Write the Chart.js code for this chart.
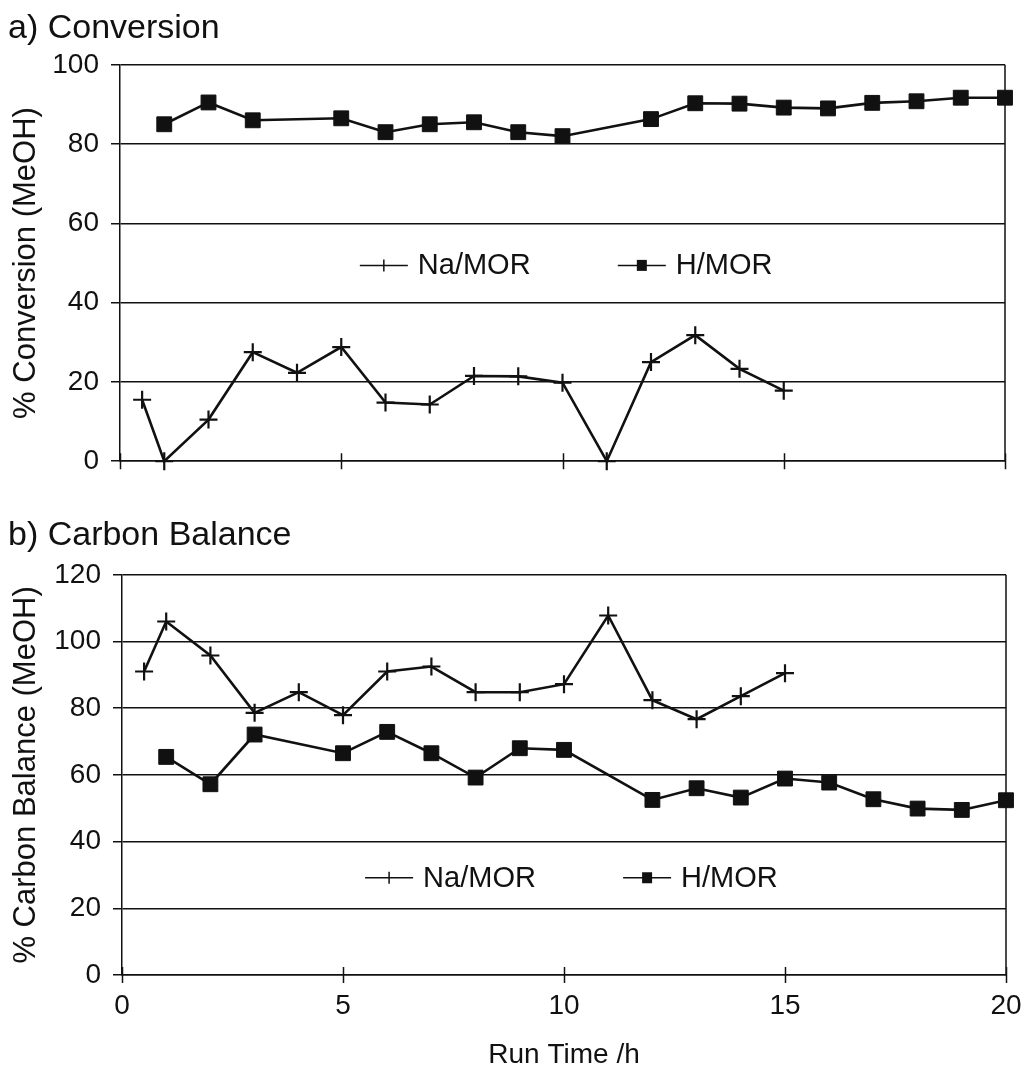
<!DOCTYPE html>
<html>
<head>
<meta charset="utf-8">
<title>Conversion and Carbon Balance</title>
<script src="https://cdn.jsdelivr.net/npm/chart.js@4.4.1/dist/chart.umd.min.js"></script>
<style>
  body { margin: 0; background: #fff; }
  .panel { position: absolute; left: 0; width: 1023px; }
  #panelA { top: 0; height: 490px; }
  #panelB { top: 500px; height: 578px; }
</style>
</head>
<body>
<div class="panel" id="panelA"><canvas id="convChart"></canvas></div>
<div class="panel" id="panelB"><canvas id="carbonChart"></canvas></div>
<script>
// Run times (h) for each catalyst
const naTimes = [0.5, 1, 2, 3, 4, 5, 6, 7, 8, 9, 10, 11, 12, 13, 14, 15];
const hTimes = [1, 2, 3, 5, 6, 7, 8, 9, 10, 12, 13, 14, 15, 16, 17, 18, 19, 20];

// % conversion of MeOH
const naConversion = [15.5, 0, 10.5, 27.5, 22.3, 28.8, 14.8, 14.3, 21.5, 21.4, 19.8, 0, 25, 31.8, 23.3, 17.8];
const hConversion = [85, 90.5, 86, 86.5, 83, 85, 85.5, 83, 82, 86.3, 90.3, 90.2, 89.2, 89, 90.4, 90.8, 91.7, 91.7];

// % carbon balance of MeOH
const naCarbon = [91, 106, 95.8, 78.6, 84.8, 77.9, 91, 92.5, 84.8, 84.8, 87.2, 107.8, 82.4, 76.7, 83.6, 90.5];
const hCarbon = [65.4, 57.2, 72.1, 66.5, 72.9, 66.5, 59.2, 68, 67.5, 52.5, 56, 53.2, 58.9, 57.7, 52.7, 49.9, 49.5, 52.4];

const seriesNames = ['Na/MOR', 'H/MOR'];
const xMax = 20;
const xStep = 5;

const INK = '#111';
const FONT = '"Liberation Sans", Arial, Helvetica, sans-serif';
Chart.defaults.font.family = FONT;
Chart.defaults.color = INK;

function toPoints(times, values) {
    return times.map((t, i) => ({ x: t, y: values[i] }));
}

// right-hand frame line and the x tick marks that cross the axis
const frameTicks = {
    id: 'frameTicks',
    beforeDatasetsDraw(chart) {
        const { ctx, chartArea: a, scales: { x } } = chart;
        ctx.save();
        ctx.strokeStyle = INK;
        ctx.lineWidth = 1.5;
        ctx.beginPath();
        ctx.moveTo(a.right, a.top);
        ctx.lineTo(a.right, a.bottom);
        x.ticks.forEach(t => {
            const px = Math.round(x.getPixelForValue(t.value)) + 0.5;
            ctx.moveTo(px, a.bottom - 8);
            ctx.lineTo(px, a.bottom + 8);
        });
        ctx.stroke();
        ctx.restore();
    }
};

// legend drawn inside the plot: short line with the marker, then the name
const insideLegend = {
    id: 'insideLegend',
    afterDatasetsDraw(chart, args, opts) {
        const { ctx, chartArea: a } = chart;
        let x = a.left + opts.x * a.width;
        const y = a.top + opts.y * a.height;
        ctx.save();
        ctx.font = '29px ' + FONT;
        ctx.textBaseline = 'middle';
        ctx.fillStyle = INK;
        ctx.strokeStyle = INK;
        chart.data.datasets.forEach(ds => {
            const mid = x + 24;
            ctx.lineWidth = 1.5;
            ctx.beginPath();
            ctx.moveTo(x, y);
            ctx.lineTo(x + 48, y);
            if (ds.pointStyle === 'cross') {
                ctx.moveTo(mid, y - 6);
                ctx.lineTo(mid, y + 6);
            }
            ctx.stroke();
            if (ds.pointStyle === 'rect') {
                ctx.fillRect(mid - 5, y - 5.5, 10, 11);
            }
            ctx.fillText(ds.label, x + 58, y + 1);
            x += opts.gap;
        });
        ctx.restore();
    }
};

function makeDatasets(naValues, hValues) {
    return [
        {
            label: seriesNames[0],
            data: toPoints(naTimes, naValues),
            borderColor: INK,
            backgroundColor: INK,
            borderWidth: 2.6,
            pointStyle: 'cross',
            pointRadius: 9,
            pointBorderWidth: 2.2,
            tension: 0,
            clip: false
        },
        {
            label: seriesNames[1],
            data: toPoints(hTimes, hValues),
            borderColor: INK,
            backgroundColor: INK,
            borderWidth: 2.6,
            pointStyle: 'rect',
            pointRadius: 10.5,
            pointBorderWidth: 1,
            tension: 0,
            clip: false
        }
    ];
}

function makeChart(canvasId, cfg) {
    const ctx = document.getElementById(canvasId).getContext('2d');
    return new Chart(ctx, {
        type: 'line',
        data: { datasets: makeDatasets(cfg.na, cfg.h) },
        plugins: [frameTicks, insideLegend],
        options: {
            responsive: true,
            maintainAspectRatio: false,
            animation: false,
            layout: { padding: { left: 8, right: cfg.padRight, top: 0, bottom: 0 } },
            plugins: {
                legend: { display: false },
                tooltip: { enabled: false },
                title: {
                    display: true,
                    text: cfg.title,
                    align: 'start',
                    color: INK,
                    font: { size: 34, weight: 'normal' },
                    padding: cfg.titlePadding
                },
                insideLegend: cfg.legend
            },
            scales: {
                x: {
                    type: 'linear',
                    min: 0,
                    max: xMax,
                    // fixed height; the end labels may hang over the padding
                    afterFit: s => {
                        s.height = cfg.xHeight;
                        s.paddingLeft = 0;
                        s.paddingRight = 0;
                    },
                    ticks: {
                        display: cfg.showX,
                        stepSize: xStep,
                        color: INK,
                        padding: 14,
                        maxRotation: 0,
                        font: { size: 28 }
                    },
                    grid: { display: false, drawTicks: false },
                    border: { display: true, color: INK, width: 1.5 },
                    title: {
                        display: cfg.showX,
                        text: 'Run Time /h',
                        color: INK,
                        font: { size: 28 },
                        padding: { top: 4, bottom: 6 }
                    }
                },
                y: {
                    min: 0,
                    max: cfg.yMax,
                    afterFit: s => { s.width = cfg.yWidth; },
                    ticks: {
                        stepSize: 20,
                        color: INK,
                        padding: 12,
                        font: { size: 28 }
                    },
                    grid: { color: INK, lineWidth: 1.5, tickLength: 9, drawTicks: true },
                    border: { display: true, color: INK, width: 1.5 },
                    title: {
                        display: true,
                        text: cfg.yTitle,
                        color: INK,
                        font: { size: 31 },
                        padding: { top: 0, bottom: 0 }
                    }
                }
            }
        }
    });
}

makeChart('convChart', {
    title: 'a) Conversion',
    titlePadding: { top: 8, bottom: 16 },
    yTitle: '% Conversion (MeOH)',
    yMax: 100,
    yWidth: 112,
    padRight: 18,
    xHeight: 24,
    showX: false,
    na: naConversion,
    h: hConversion,
    legend: { x: 0.271, y: 0.506, gap: 258 }
});

makeChart('carbonChart', {
    title: 'b) Carbon Balance',
    titlePadding: { top: 15, bottom: 19 },
    yTitle: '% Carbon Balance (MeOH)',
    yMax: 120,
    yWidth: 114,
    padRight: 17,
    xHeight: 103,
    showX: true,
    na: naCarbon,
    h: hCarbon,
    legend: { x: 0.275, y: 0.757, gap: 258 }
});
</script>
</body>
</html>
